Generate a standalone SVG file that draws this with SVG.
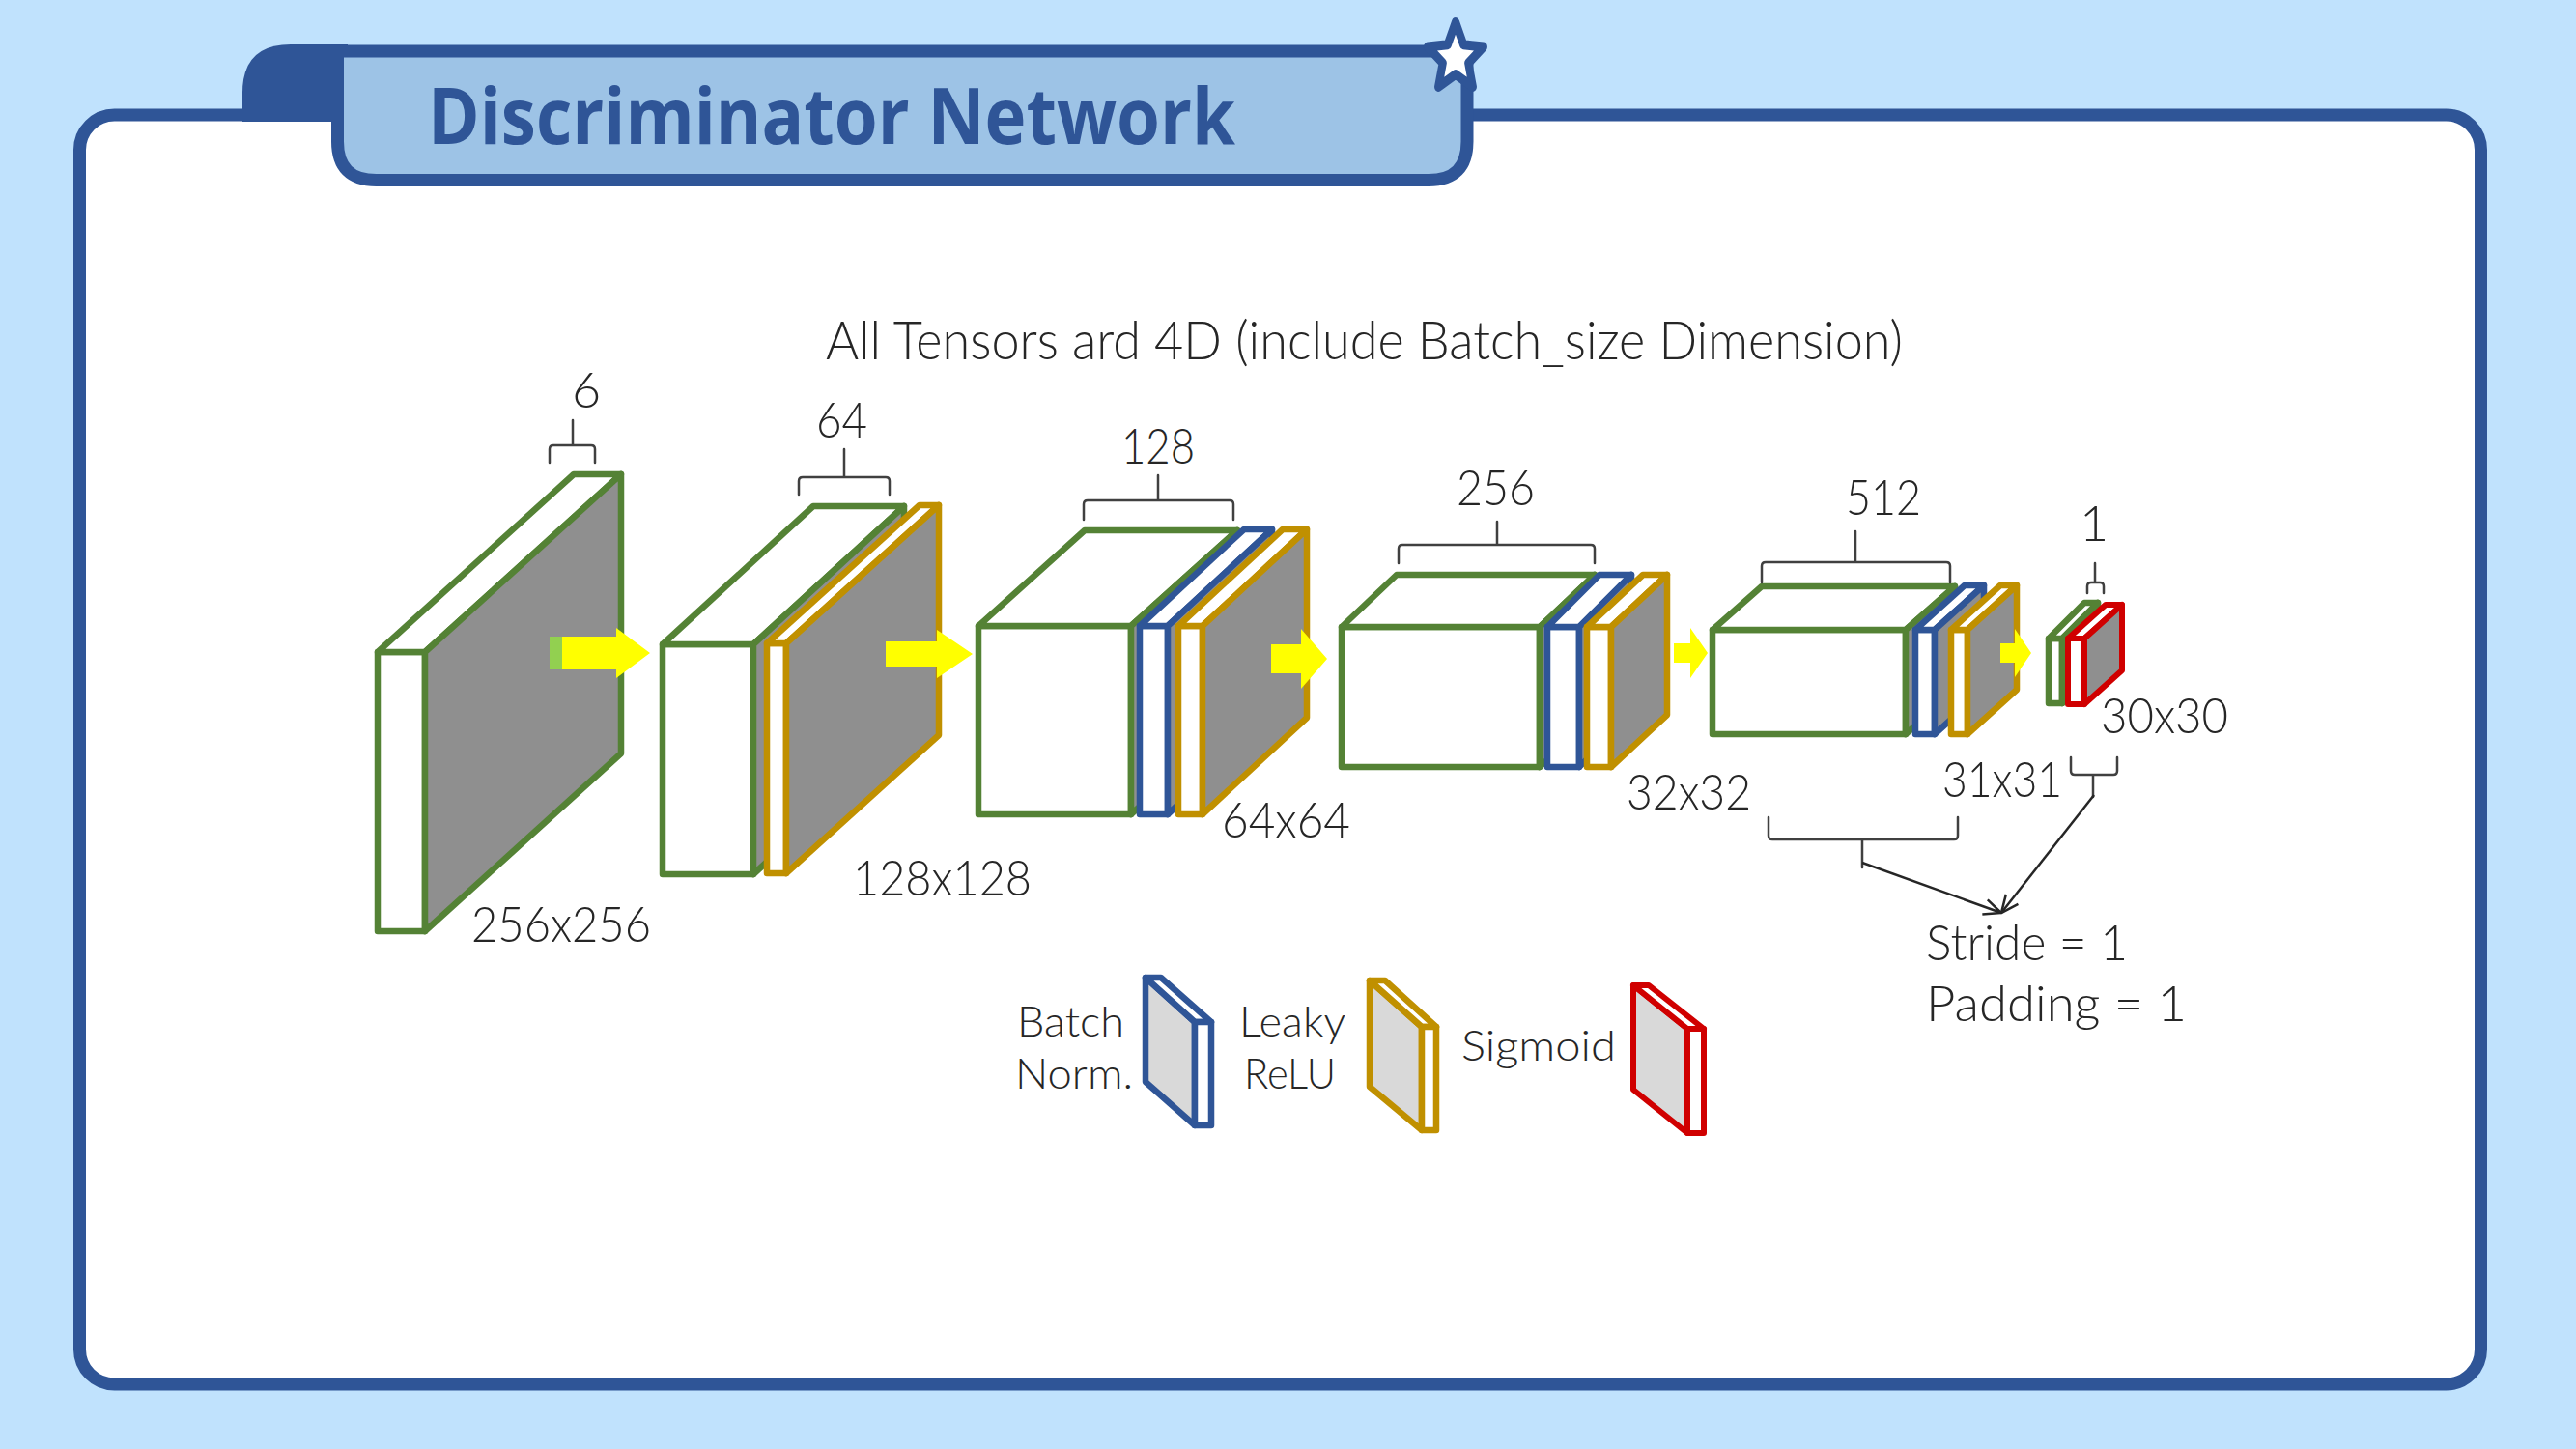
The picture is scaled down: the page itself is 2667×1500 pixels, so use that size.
<svg xmlns="http://www.w3.org/2000/svg" width="2667" height="1500" viewBox="0 0 2667 1500">
<defs>
<style>
.g{stroke:#548235;stroke-width:6.5;stroke-linejoin:round}
.b{stroke:#2F5597;stroke-width:6.5;stroke-linejoin:round}
.o{stroke:#C09000;stroke-width:6.5;stroke-linejoin:round}
.r{stroke:#D00000;stroke-width:6;stroke-linejoin:round}
.w{fill:#FFFFFF}
.k{fill:#8F8F8F}
.l{fill:#D9D9D9}
.br{fill:none;stroke:#404040;stroke-width:2.5;stroke-linejoin:round;stroke-linecap:round}
.ln{fill:none;stroke:#262626;stroke-width:2.5}
.ya{fill:#FFFF00}
text{font-family:Lato,"Open Sans","Liberation Sans",sans-serif;font-weight:300;fill:#262626}
.n{font-size:52px}
.lg{font-size:44px}
</style>
<marker id="head" viewBox="0 0 20 20" refX="19" refY="10" markerWidth="20" markerHeight="20" markerUnits="userSpaceOnUse" orient="auto">
<path d="M1,2 L19,10 L1,18" fill="none" stroke="#262626" stroke-width="2.5"/>
</marker>
</defs>
<rect x="0" y="0" width="2667" height="1500" fill="#C0E2FD"/>
<g id="panel">
<rect x="82.5" y="119" width="2486" height="1314" rx="36" fill="#FFFFFF" stroke="#2F5597" stroke-width="13"/>
<path d="M251,126 V96 Q251,46 301,46 H360 V126 Z" fill="#2F5597"/>
<path d="M349.5,53 H1519 V146.5 Q1519,186.5 1479,186.5 H389.5 Q349.5,186.5 349.5,146.5 Z" fill="#9DC3E6" stroke="#2F5597" stroke-width="13"/>
<polygon transform="translate(1507,60) scale(0.82,1)" points="0,-37 9.99,-13.75 35.19,-11.43 16.17,5.25 21.75,29.93 0,17 -21.75,29.93 -16.17,5.25 -35.19,-11.43 -9.99,-13.75" fill="#FFFFFF" stroke="#2F5597" stroke-width="10" stroke-linejoin="round"/>
<text x="443" y="149" font-size="80" textLength="836" lengthAdjust="spacingAndGlyphs" style="font-family:'Open Sans','Liberation Sans',sans-serif;font-weight:700;fill:#2F5597">Discriminator Network</text>
</g>
<text x="855" y="372" font-size="56" textLength="1115" lengthAdjust="spacingAndGlyphs">All Tensors ard 4D (include Batch_size Dimension)</text>

<!-- Block 1: input 256x256x6 -->
<g id="input">
<rect class="g w" x="391" y="675" width="49" height="289"/>
<polygon class="g w" points="391,675 594,491 643,491 440,675"/>
<polygon class="g k" points="440,675 643,491 643,780 440,964"/>
<text class="n" x="607" y="422" text-anchor="middle">6</text>
<text class="n" x="488" y="975" textLength="186" lengthAdjust="spacingAndGlyphs">256x256</text>
</g>

<!-- Block 2 -->
<g id="conv1">
<rect class="g w" x="686" y="667" width="94" height="238"/>
<polygon class="g w" points="686,667 842,524 936,524 780,667"/>
<polygon class="g k" points="780,667 936,524 936,762 780,905"/>
<rect class="o w" x="794" y="666" width="20" height="238"/>
<polygon class="o w" points="794,666 952,523 972,523 814,666"/>
<polygon class="o k" points="814,666 972,523 972,761 814,904"/>
<text class="n" x="845" y="453" textLength="53" lengthAdjust="spacingAndGlyphs">64</text>
<text class="n" x="883" y="927" textLength="185" lengthAdjust="spacingAndGlyphs">128x128</text>
</g>

<!-- Block 3 -->
<g id="conv2">
<rect class="g w" x="1013" y="648" width="158" height="195"/>
<polygon class="g w" points="1013,648 1123,549 1281,549 1171,648"/>
<polygon class="g k" points="1171,648 1281,549 1281,744 1171,843"/>
<rect class="b w" x="1180" y="648" width="29" height="195"/>
<polygon class="b w" points="1180,648 1288,548 1317,548 1209,648"/>
<polygon class="b k" points="1209,648 1317,548 1317,743 1209,843"/>
<rect class="o w" x="1220" y="648" width="25" height="195"/>
<polygon class="o w" points="1220,648 1328,548 1353,548 1245,648"/>
<polygon class="o k" points="1245,648 1353,548 1353,743 1245,843"/>
<text class="n" x="1161" y="480" textLength="76" lengthAdjust="spacingAndGlyphs">128</text>
<text class="n" x="1265" y="867" textLength="133" lengthAdjust="spacingAndGlyphs">64x64</text>
</g>

<!-- Block 4 -->
<g id="conv3">
<rect class="g w" x="1389" y="649" width="205" height="145"/>
<polygon class="g w" points="1389,649 1446,595 1651,595 1594,649"/>
<polygon class="g k" points="1594,649 1651,595 1651,740 1594,794"/>
<rect class="b w" x="1602" y="649" width="33" height="145"/>
<polygon class="b w" points="1602,649 1656,595 1689,595 1635,649"/>
<polygon class="b k" points="1635,649 1689,595 1689,740 1635,794"/>
<rect class="o w" x="1643" y="649" width="25" height="145"/>
<polygon class="o w" points="1643,649 1701,595 1726,595 1668,649"/>
<polygon class="o k" points="1668,649 1726,595 1726,740 1668,794"/>
<text class="n" x="1508" y="523" textLength="81" lengthAdjust="spacingAndGlyphs">256</text>
<text class="n" x="1684" y="838" textLength="129" lengthAdjust="spacingAndGlyphs">32x32</text>
</g>

<!-- Block 5 -->
<g id="conv4">
<rect class="g w" x="1773" y="652" width="200" height="108"/>
<polygon class="g w" points="1773,652 1824,607 2024,607 1973,652"/>
<polygon class="g k" points="1973,652 2024,607 2024,715 1973,760"/>
<rect class="b w" x="1983" y="652" width="20" height="108"/>
<polygon class="b w" points="1983,652 2034,606 2054,606 2003,652"/>
<polygon class="b k" points="2003,652 2054,606 2054,714 2003,760"/>
<rect class="o w" x="2020" y="652" width="17" height="108"/>
<polygon class="o w" points="2020,652 2071,606 2088,606 2037,652"/>
<polygon class="o k" points="2037,652 2088,606 2088,714 2037,760"/>
<text class="n" x="1911" y="533" textLength="78" lengthAdjust="spacingAndGlyphs">512</text>
<text class="n" x="2011" y="825" textLength="124" lengthAdjust="spacingAndGlyphs">31x31</text>
</g>

<!-- Block 6 -->
<g id="output">
<rect class="g w" x="2121" y="661" width="14" height="67"/>
<polygon class="g w" points="2121,661 2158,624 2172,624 2135,661"/>
<polygon class="g k" points="2135,661 2172,624 2172,691 2135,728"/>
<rect class="r w" x="2141" y="661" width="17" height="68"/>
<polygon class="r w" points="2141,661 2180,626 2197,626 2158,661"/>
<polygon class="r k" points="2158,661 2197,626 2197,694 2158,729"/>
<text class="n" x="2168" y="560" text-anchor="middle">1</text>
<text class="n" x="2175" y="759" textLength="132" lengthAdjust="spacingAndGlyphs">30x30</text>
</g>

<g id="brackets">
<path class="br" d="M569,479 V465 Q569,461 573,461 H612 Q616,461 616,465 V479 M593,461 V435"/>
<path class="br" d="M827,512 V498 Q827,494 831,494 H917 Q921,494 921,498 V512 M874,494 V465"/>
<path class="br" d="M1122,538 V522 Q1122,518 1126,518 H1273 Q1277,518 1277,522 V538 M1199,518 V492"/>
<path class="br" d="M1448,583 V568 Q1448,564 1452,564 H1647 Q1651,564 1651,568 V583 M1550,564 V540"/>
<path class="br" d="M1824,603 V586 Q1824,582 1828,582 H2015 Q2019,582 2019,586 V603 M1921,582 V550"/>
<path class="br" d="M2161,614 V607 Q2161,603 2165,603 H2174 Q2178,603 2178,607 V614 M2169,603 V583"/>
<path class="br" d="M1831,846 V865 Q1831,869 1835,869 H2023 Q2027,869 2027,865 V846 M1928,869 V898"/>
<path class="br" d="M2144,784 V798 Q2144,802 2148,802 H2188 Q2192,802 2192,798 V784 M2167,802 V825"/>
</g>

<g id="connectors">
<rect x="569" y="659" width="13" height="34" fill="#92D050"/>
<polygon class="ya" points="582,659 638,659 638,650 673,676 638,702 638,693 582,693"/>
<polygon class="ya" points="917,664 970,664 970,652 1007,677 970,702 970,690 917,690"/>
<polygon class="ya" points="1316,667 1347,667 1347,651 1374,682 1347,713 1347,697 1316,697"/>
<polygon class="ya" points="1733,666 1750,666 1750,650 1768,676 1750,702 1750,686 1733,686"/>
<polygon class="ya" points="2071,666 2086,666 2086,651 2103,676 2086,701 2086,686 2071,686"/>
<line class="ln" x1="1928" y1="893" x2="2072" y2="945" marker-end="url(#head)"/>
<line class="ln" x1="2168" y1="823" x2="2072" y2="945" marker-end="url(#head)"/>
</g>

<g id="stride-note">
<text class="n"><tspan x="1994" y="994" textLength="209" lengthAdjust="spacingAndGlyphs">Stride = 1</tspan><tspan x="1994" y="1057" textLength="270" lengthAdjust="spacingAndGlyphs">Padding = 1</tspan></text>
</g>

<g id="legend-bn">
<text class="lg"><tspan x="1053" y="1073" textLength="111" lengthAdjust="spacingAndGlyphs">Batch</tspan><tspan x="1051" y="1127" textLength="122" lengthAdjust="spacingAndGlyphs">Norm.</tspan></text>
<polygon class="b l" points="1186,1012 1237,1058 1237,1165 1186,1120"/>
<polygon class="b w" points="1186,1012 1202,1012 1254,1058 1237,1058"/>
<rect class="b w" x="1237" y="1058" width="17" height="107"/>
</g>
<g id="legend-lrelu">
<text class="lg"><tspan x="1283" y="1073" textLength="110" lengthAdjust="spacingAndGlyphs">Leaky</tspan><tspan x="1288" y="1127" textLength="95" lengthAdjust="spacingAndGlyphs">ReLU</tspan></text>
<polygon class="o l" points="1418,1015 1472,1063 1472,1170 1418,1125"/>
<polygon class="o w" points="1418,1015 1434,1015 1487,1063 1472,1063"/>
<rect class="o w" x="1472" y="1063" width="15" height="107"/>
</g>
<g id="legend-sigmoid">
<text class="lg" x="1513" y="1098" textLength="160" lengthAdjust="spacingAndGlyphs">Sigmoid</text>
<polygon class="r l" points="1691,1020 1747,1065 1747,1173 1691,1128"/>
<polygon class="r w" points="1691,1020 1707,1020 1764,1065 1747,1065"/>
<rect class="r w" x="1747" y="1065" width="17" height="108"/>
</g>
</svg>
